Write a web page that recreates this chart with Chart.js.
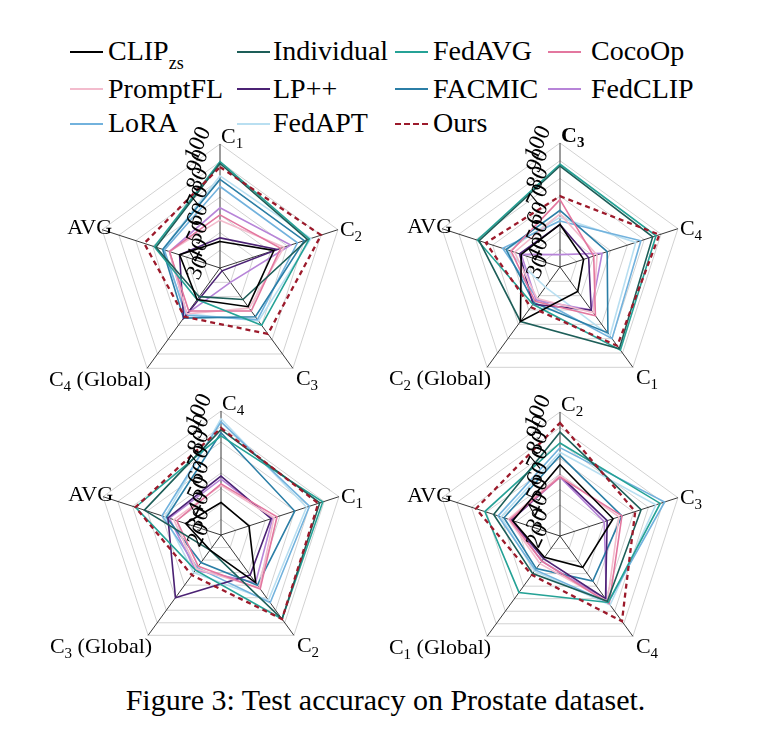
<!DOCTYPE html>
<html>
<head>
<meta charset="utf-8">
<script src="https://cdn.jsdelivr.net/npm/chart.js@4.4.0/dist/chart.umd.min.js"></script>
<style>
  body { margin: 0; background: #fff; }
  #page { position: relative; width: 771px; height: 748px; font-family: "Liberation Serif", "Times New Roman", serif; color: #000; overflow: hidden; }
  .item { position: absolute; font-size: 28px; line-height: 28px; white-space: nowrap; }
  .swatch { position: absolute; height: 0; width: 33px; }
  canvas { position: absolute; }
  #caption { position: absolute; left: 0; width: 771px; top: 685px; text-align: center; font-size: 30px; line-height: 30px; }
</style>
</head>
<body>
<div id="page">
  <div id="legend"></div>
  <canvas id="radar1" width="370" height="295" style="left:35px;top:120px"></canvas>
  <canvas id="radar2" width="370" height="295" style="left:375px;top:119px"></canvas>
  <canvas id="radar3" width="370" height="295" style="left:36px;top:387px"></canvas>
  <canvas id="radar4" width="370" height="295" style="left:375px;top:388px"></canvas>
  <div id="caption">Figure 3: Test accuracy on Prostate dataset.</div>
</div>
<script>
// nhãn trục của từng biểu đồ (theo chiều kim đồng hồ, bắt đầu từ trên)
const axes1 = ['C1', 'C2', 'C3', 'C4 (Global)', 'AVG'];
const axes2 = ['C3', 'C4', 'C1', 'C2 (Global)', 'AVG'];
const axes3 = ['C4', 'C1', 'C2', 'C3 (Global)', 'AVG'];
const axes4 = ['C2', 'C3', 'C4', 'C1 (Global)', 'AVG'];
const scaleMin = [30, 30, 20, 20];

// độ chính xác của từng phương pháp, mỗi hàng là một biểu đồ
const clipZs     = [[45, 62, 57, 52, 54], [54, 44, 47, 68, 53], [41, 39, 58, 32, 44], [66, 56, 45, 37, 52]];
const individual = [[89, 82, 52, 50, 68], [87, 85, 87, 68, 78], [88, 87, 87, 32, 72], [87, 75, 72, 50, 65]];
const fedAvg     = [[90, 83, 70, 52, 69], [88, 87, 88, 56, 79], [84, 89, 87, 48, 78], [80, 88, 73, 65, 71]];
const cocoOp     = [[60, 66, 60, 60, 60], [68, 50, 64, 54, 59], [53, 58, 63, 45, 50], [58, 62, 74, 40, 54]];
const promptFl   = [[57, 68, 58, 62, 60], [60, 52, 62, 52, 57], [52, 56, 62, 47, 52], [59, 60, 72, 42, 55]];
const lpPlus     = [[47, 64, 32, 65, 54], [54, 47, 60, 56, 54], [58, 54, 52, 70, 56], [59, 52, 70, 38, 53]];
const facmic     = [[80, 80, 64, 65, 64], [62, 58, 76, 55, 62], [86, 70, 60, 42, 57], [72, 62, 56, 46, 58]];
const fedClip    = [[64, 72, 40, 62, 60], [37, 55, 60, 53, 53], [56, 55, 58, 48, 55], [58, 50, 71, 40, 53]];
const lora       = [[76, 76, 66, 63, 63], [56, 78, 80, 52, 64], [93, 80, 74, 46, 60], [77, 91, 73, 47, 62]];
const fedApt     = [[82, 84, 67, 62, 64], [58, 75, 78, 44, 62], [95, 78, 72, 50, 58], [74, 85, 75, 48, 60]];
const ours       = [[87, 90, 76, 64, 75], [70, 89, 85, 58, 74], [89, 86, 87, 52, 78], [93, 71, 88, 51, 77]];

const methods = ['CLIP|zs', 'Individual', 'FedAVG', 'CocoOp', 'PromptFL', 'LP++', 'FACMIC', 'FedCLIP', 'LoRA', 'FedAPT', 'Ours'];
const values = [clipZs, individual, fedAvg, cocoOp, promptFl, lpPlus, facmic, fedClip, lora, fedApt, ours];
const colors = ['#000000', '#1d5e58', '#25a296', '#e3779f', '#f3bccd', '#4b2274', '#2b7ea6', '#b784d8', '#72b2dd', '#b9dff1', '#9c1a2b'];

// vị trí chú thích: 4 cột, 3 hàng
const legendLineX = [70, 237, 395, 548];
const legendTextX = [108, 273, 433, 591];
const legendBase = [60, 98, 132];
const legendLineY = [52, 89, 124];

const legend = document.getElementById('legend');
methods.forEach(function (name, i) {
    const col = i % 4, row = Math.floor(i / 4);
    const sw = document.createElement('div');
    sw.className = 'swatch';
    sw.style.left = legendLineX[col] + 'px';
    sw.style.top = (legendLineY[row] - 1) + 'px';
    sw.style.borderTop = (name === 'Ours' ? '2px dashed ' : '2px solid ') + colors[i];
    legend.appendChild(sw);
    const t = document.createElement('div');
    t.className = 'item';
    t.style.left = legendTextX[col] + 'px';
    t.style.top = (legendBase[row] - 23) + 'px';
    const parts = name.split('|');
    t.innerHTML = parts[0] + (parts[1] ? '<span style="font-size:18px;position:relative;top:9px">' + parts[1] + '</span>' : '');
    legend.appendChild(t);
});

// vẽ nhãn trục (có chỉ số dưới) và nhãn giá trị xoay nghiêng
const axisText = {
    id: 'axisText',
    afterDraw: function (chart) {
        const scale = chart.scales.r;
        const ctx = chart.ctx;
        const opts = chart.options.plugins.axisText;
        ctx.save();
        ctx.fillStyle = '#000';

        ctx.font = '23px "Liberation Serif"';
        ctx.textAlign = 'center';
        ctx.textBaseline = 'middle';
        scale.ticks.forEach(function (t) {
            const p = scale.getPointPositionForValue(0, t.value);
            ctx.save();
            ctx.translate(p.x - 22, p.y);
            ctx.rotate(-Math.PI * 0.36);
            ctx.fillText(t.label, 0, 0);
            ctx.restore();
        });

        ctx.textAlign = 'left';
        ctx.textBaseline = 'alphabetic';
        opts.labels.forEach(function (name, i) {
            const v = scale.getPointPosition(i, scale.drawingArea);
            const m = name.match(/^C(\d)(.*)$/);
            const main = m ? 'C' : name, sub = m ? m[1] : '', rest = m ? m[2] : '';
            const mainFont = (i === 0 && opts.bold ? 'bold ' : '') + '22px "Liberation Serif"';
            const subFont = (i === 0 && opts.bold ? 'bold ' : '') + '15px "Liberation Serif"';
            ctx.font = mainFont;
            const w1 = ctx.measureText(main).width, w3 = ctx.measureText(rest).width;
            ctx.font = subFont;
            const w2 = ctx.measureText(sub).width;
            const total = w1 + w2 + w3;
            let x, y;
            if (i === 0) { x = v.x + 1; y = v.y - 1; }
            else if (i === 1) { x = v.x + 2; y = v.y + 6; }
            else if (i === 2) { x = v.x + 3; y = v.y + 17; }
            else if (i === 3) { x = v.x + 4 - total; y = v.y + 18; }
            else { x = v.x + 10 - total; y = v.y + 4; }
            ctx.font = mainFont;
            ctx.fillText(main, x, y);
            ctx.font = subFont;
            ctx.fillText(sub, x + w1, y + 5);
            ctx.font = mainFont;
            ctx.fillText(rest, x + w1 + w2, y);
        });
        ctx.restore();
    }
};

function drawRadar(id, k, labels, bold) {
    const datasets = methods.map(function (name, i) {
        return {
            label: name.replace('|', ''),
            data: values[i][k],
            borderColor: colors[i],
            borderWidth: name === 'Ours' ? 2.3 : 1.6,
            borderDash: name === 'Ours' ? [5, 4] : [],
            fill: false,
            pointRadius: 0,
            order: name === 'Ours' ? -1 : i
        };
    });
    new Chart(document.getElementById(id), {
        type: 'radar',
        data: { labels: labels, datasets: datasets },
        options: {
            responsive: false,
            animation: false,
            layout: { padding: { left: 61, right: 61, top: 24, bottom: 23 } },
            plugins: {
                legend: { display: false },
                tooltip: { enabled: false },
                axisText: { labels: labels, bold: bold }
            },
            scales: {
                r: {
                    min: scaleMin[k],
                    max: 100,
                    ticks: { display: false, stepSize: 10 },
                    pointLabels: { display: false },
                    grid: { color: '#d2d2d2', lineWidth: 1 },
                    angleLines: { color: '#222', lineWidth: 0.9 }
                }
            }
        },
        plugins: [axisText]
    });
}

drawRadar('radar1', 0, axes1, false);
drawRadar('radar2', 1, axes2, true);
drawRadar('radar3', 2, axes3, false);
drawRadar('radar4', 3, axes4, false);
</script>
</body>
</html>
